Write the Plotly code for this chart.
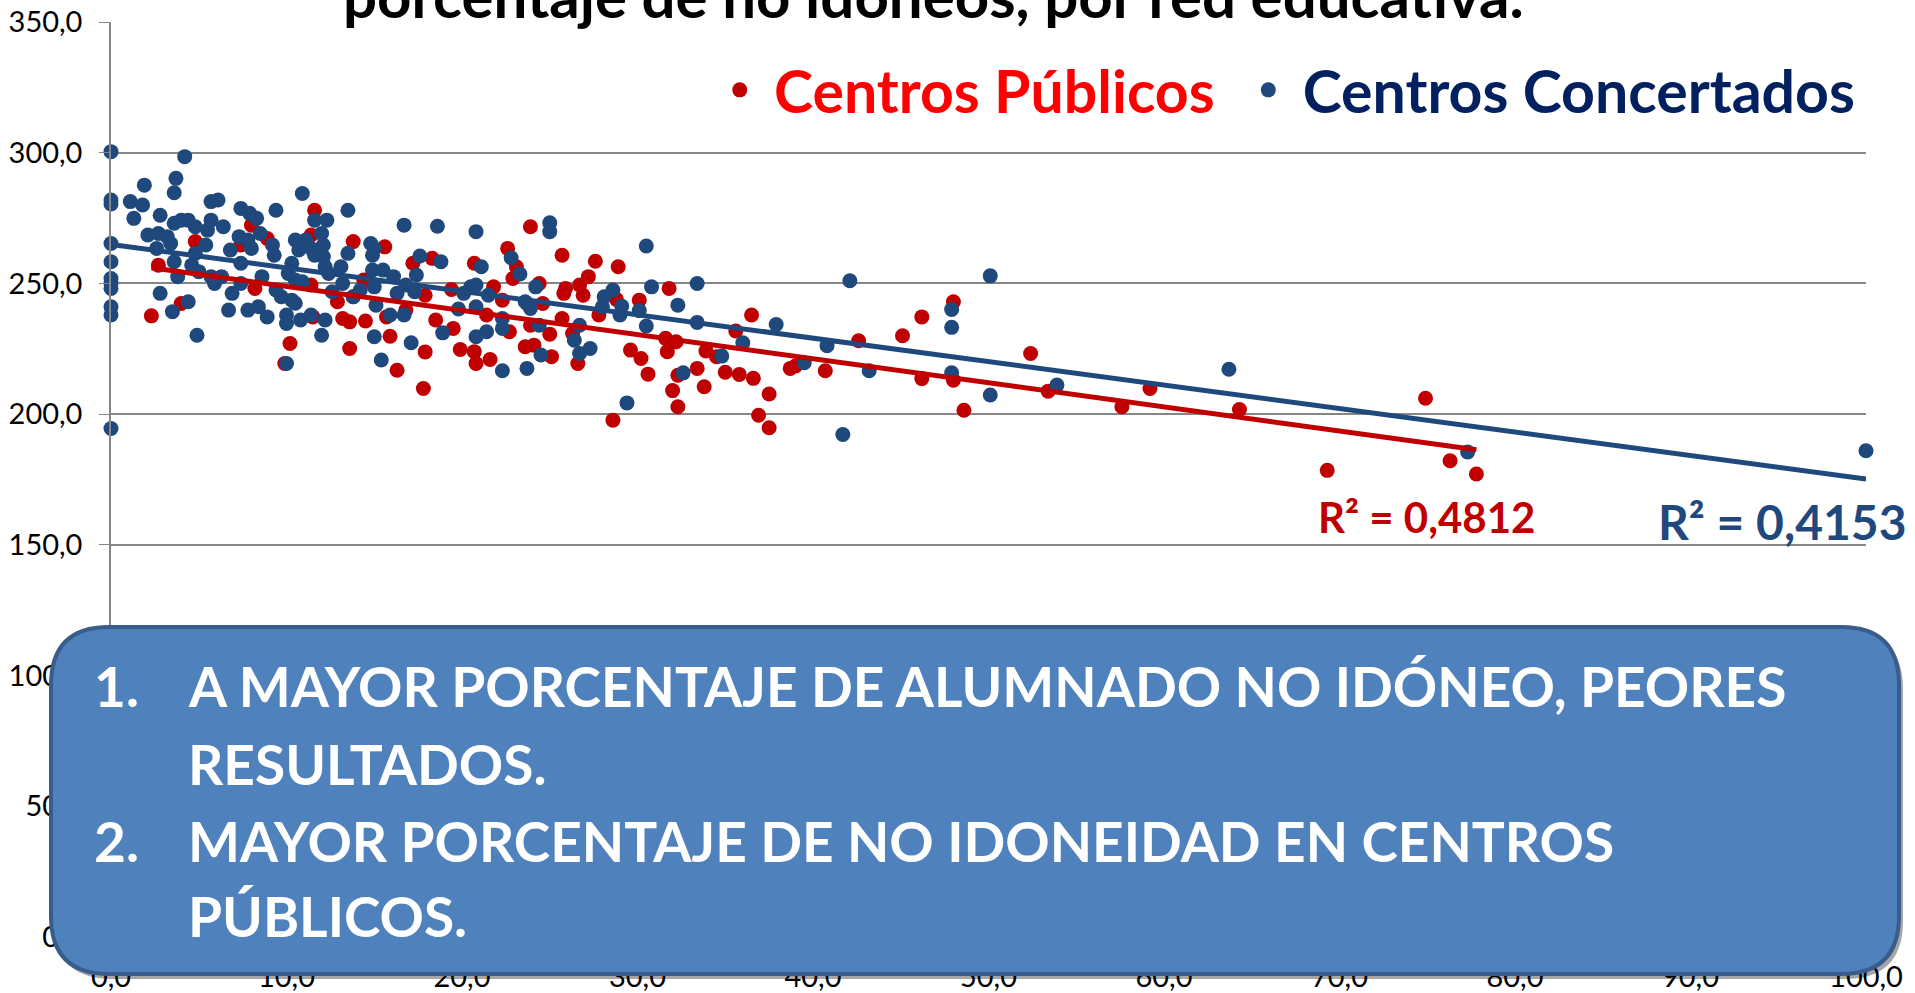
import numpy as np
import plotly.graph_objects as go

# ---- data ----
pub_x = [11.6, 8.0, 4.8, 2.7, 2.3, 4.0, 7.4, 8.9, 11.4, 8.2, 11.4, 12.9, 11.5, 13.2, 13.6, 10.2, 9.9, 13.6, 13.8,
         15.6, 14.4, 13.8, 14.5, 15.7, 16.8, 15.9, 16.3, 17.8, 17.9, 17.2, 18.3, 17.9, 18.5, 19.4, 19.5, 19.9, 20.7,
         20.8, 21.6, 20.7, 21.8, 22.3, 21.4, 22.7, 22.6, 23.1, 22.9, 23.9, 24.4, 23.7, 24.6, 23.9, 23.6, 24.1, 25.0,
         25.1, 25.7, 25.8, 25.9, 26.7, 27.2, 26.9, 27.6, 25.7, 26.3, 26.6, 27.8, 28.6,
         28.9, 31.8, 30.1, 28.8, 31.6, 32.2, 31.7, 29.6, 30.2, 30.6, 32.3, 33.4, 33.8, 32.0, 32.3, 33.9, 34.5, 35.6,
         36.5, 35.0, 35.8, 36.6, 37.5, 36.9, 37.5, 38.7, 39.0, 40.7,
         42.6, 45.1, 46.2, 48.0, 46.2, 48.0, 48.6, 52.4, 53.4, 57.6, 59.2, 64.3, 74.9, 69.3, 76.3, 77.8]
pub_y = [278.0, 272.3, 266.0, 257.0, 237.6, 242.3, 264.7, 267.2, 268.5, 248.1, 249.4, 243.0, 237.2, 236.6, 235.3,
         227.0, 219.4, 225.1, 266.0,
         264.0, 251.3, 244.9, 235.6, 237.2, 239.8, 229.8, 216.8, 209.8, 223.8, 257.7, 259.6, 245.5, 236.0, 247.7,
         232.8, 224.7, 223.9, 219.4, 220.9, 257.7, 248.7, 243.6, 237.9, 231.5, 263.4, 256.4, 251.9, 271.7, 250.0,
         242.3, 242.3, 234.0, 225.8, 226.4, 230.6, 222.0, 260.8, 246.2, 248.1, 249.4, 252.6, 245.5, 258.5, 236.6,
         230.8, 219.4, 237.9, 197.7,
         256.4, 248.1, 243.6, 243.9, 229.0, 227.7, 223.9, 224.5, 221.3, 215.3, 214.9, 217.5, 210.5, 209.0, 202.8,
         224.2, 222.0, 231.8, 237.9, 216.0, 215.2, 213.7, 207.7, 199.6, 194.8, 217.5, 218.4, 216.6,
         228.1, 230.0, 237.2, 243.0, 213.6, 213.0, 201.5, 223.2, 208.8, 202.8, 209.8, 201.8, 206.1, 178.5, 182.2, 177.1]

conc_x = [0, 4.2, 3.7, 1.9, 3.6, 0, 0, 1.1, 1.8, 1.3, 2.8, 5.7, 6.1, 7.4, 7.9, 8.3, 9.4, 10.9, 13.5, 3.6, 4.0, 4.4,
          4.8, 5.7, 5.5, 6.4, 2.1, 2.7, 3.2, 3.4, 2.6, 0, 0, 0, 0, 0, 0, 0, 0, 5.4, 4.8, 3.6, 3.8, 4.6, 5.0, 6.8,
          7.3, 7.8, 8.5, 7.4, 8.0, 9.2, 9.3, 5.7, 5.9, 6.3, 6.9, 7.4, 8.6, 2.8, 4.4, 3.5, 4.9, 6.7, 7.8, 8.4, 8.9,
          10.5, 11.1, 10.7, 11.6, 12.3, 12.0, 12.1, 12.1, 11.6, 11.4, 10.3, 10.1, 10.5, 10.9, 9.4, 9.7, 10.3, 10.5,
          10.0, 10.0, 10.8, 11.4, 12.2, 12.0, 10.0, 12.2, 13.1, 12.4, 13.2, 12.6, 13.8, 13.5,
          16.7, 18.6, 20.8, 25.0, 25.0, 14.8, 15.0, 14.9, 17.6, 18.8, 21.1, 22.8, 23.3, 24.2, 14.9, 15.5, 16.1,
          17.4, 15.0, 14.2, 15.1, 16.3, 16.8, 17.3, 20.1, 20.5, 20.8, 21.5, 19.8, 20.8, 23.9, 23.6, 15.9, 16.7,
          22.3, 24.4, 26.7, 28.1, 15.0, 17.1, 18.9, 20.8, 21.4, 22.3, 15.4, 22.3, 23.7, 24.5, 26.4, 26.7, 27.3,
          30.5, 30.8, 33.4, 28.6, 28.0, 29.1, 29.0, 30.1, 30.5, 32.3, 33.4, 36.0, 34.8, 37.9, 39.5, 40.8, 42.1,
          32.6, 29.4, 41.7,
          50.1, 47.9, 47.9, 43.2, 47.9, 50.1, 53.9, 63.7, 77.3, 100.0]
conc_y = [300.4, 298.5, 290.2, 287.6, 284.7, 281.9, 280.4, 281.3, 280.0, 274.9, 276.1, 281.3, 281.9, 278.7, 276.8,
          274.9, 278.0, 284.4, 278.0, 273.0, 274.2, 274.2, 271.7, 274.2, 270.4, 271.7, 268.5, 269.1, 267.9, 265.3,
          263.4, 265.3, 258.3, 251.9, 250.0, 248.1, 241.1, 237.9, 194.5, 264.7, 261.5, 258.3, 252.6, 257.0, 254.5,
          262.8, 267.9, 266.6, 269.1, 257.7, 263.4, 264.7, 260.8, 252.6, 250.0, 252.6, 246.2, 250.0, 252.6, 246.2,
          243.0, 239.2, 230.2, 239.8, 239.8, 241.1, 237.2, 266.6, 266.6, 262.8, 274.2, 274.2, 269.1, 264.7, 260.2,
          260.8, 263.4, 257.7, 253.8, 251.3, 250.6, 247.5, 244.9, 243.6, 242.4, 237.9, 234.7, 236.0, 237.9, 236.0,
          230.2, 219.4, 256.4, 256.4, 253.8, 250.0, 246.8, 244.9, 261.5,
          272.3, 271.9, 269.8, 273.2, 269.8, 265.3, 263.4, 260.8, 260.5, 258.3, 256.4, 259.8, 253.6, 248.7, 255.1,
          255.1, 252.6, 253.2, 248.7, 247.5, 241.7, 246.2, 249.4, 246.8, 246.2, 248.7, 249.4, 245.5, 240.2, 241.1,
          240.4, 243.0, 237.9, 237.9, 236.6, 234.0, 234.0, 244.9, 229.6, 227.3, 231.1, 229.6, 231.5, 232.8, 220.7,
          216.6, 217.5, 222.6, 228.3, 223.2, 225.1,
          264.3, 248.7, 250.0, 247.5, 241.1, 241.3, 237.9, 239.6, 233.7, 241.7, 235.1, 227.3, 222.2, 234.3, 219.7,
          226.2, 251.0, 215.8, 204.3, 192.2,
          252.9, 240.0, 233.2, 216.6, 215.8, 207.3, 211.1, 217.2, 185.5, 186.0]

x_ticks = [0, 10, 20, 30, 40, 50, 60, 70, 80, 90, 100]
y_ticks = [0, 50, 100, 150, 200, 250, 300, 350]

RED = "#C00000"
BLUE = "#1F497D"
FONT = "Lato"
NB = "\u00a0"

W, H = 1915, 993
L, R, T, B = 111, 49, 22, 56
PW, PH = W - L - R, H - T - B

def px(p): return (p - L) / PW
def py(p): return (H - B - p) / PH

def trend(xs, ys):
    a, b = np.polyfit(xs, ys, 1)
    xx = np.array([min(xs), max(xs)])
    return xx, a * xx + b

def rounded_box(x0, y0, x1, y1, r):
    pts = [
        f"M {px(x0 + r)},{py(y0)}", f"L {px(x1 - r)},{py(y0)}", f"Q {px(x1)},{py(y0)} {px(x1)},{py(y0 + r)}",
        f"L {px(x1)},{py(y1 - r)}", f"Q {px(x1)},{py(y1)} {px(x1 - r)},{py(y1)}",
        f"L {px(x0 + r)},{py(y1)}", f"Q {px(x0)},{py(y1)} {px(x0)},{py(y1 - r)}",
        f"L {px(x0)},{py(y0 + r)}", f"Q {px(x0)},{py(y0)} {px(x0 + r)},{py(y0)}", "Z"]
    return " ".join(pts)

fig = go.Figure()
fig.add_trace(go.Scatter(x=pub_x, y=pub_y, mode="markers",
                         name=f'<span style="color:#FF0000">{NB}Centros Públicos{NB}{NB}</span>',
                         marker=dict(color=RED, size=15), cliponaxis=False))
fig.add_trace(go.Scatter(x=conc_x, y=conc_y, mode="markers",
                         name=f'<span style="color:#002060">{NB}Centros Concertados</span>',
                         marker=dict(color=BLUE, size=15), cliponaxis=False))
tx, ty = trend(pub_x, pub_y)
fig.add_trace(go.Scatter(x=tx, y=ty, mode="lines", line=dict(color=RED, width=5), showlegend=False, hoverinfo="skip"))
tx, ty = trend(conc_x, conc_y)
fig.add_trace(go.Scatter(x=tx, y=ty, mode="lines", line=dict(color=BLUE, width=5), showlegend=False, hoverinfo="skip"))

shapes = [
    dict(type="path", xref="paper", yref="paper", path=rounded_box(54, 631, 1903, 979, 58),
         fillcolor="rgba(0,0,0,0.35)", line=dict(width=0), layer="above"),
    dict(type="path", xref="paper", yref="paper", path=rounded_box(51, 627, 1899, 974, 58),
         fillcolor="#4F81BD", line=dict(color="#385D8A", width=4), layer="above"),
]

box_font = dict(family=FONT, size=55, color="white", weight="bold")
ann = [
    dict(text="porcentaje de no idóneos, por red educativa.", x=px(933), y=py(33), xanchor="center", yanchor="bottom",
         font=dict(family=FONT, size=60, color="black", weight="bold")),
    dict(text="R² = 0,4812", x=px(1426), y=py(517), xanchor="center", yanchor="middle",
         font=dict(family=FONT, size=42, color=RED, weight="bold")),
    dict(text="R² = 0,4153", x=px(1782), y=py(521), xanchor="center", yanchor="middle",
         font=dict(family=FONT, size=48, color=BLUE, weight="bold")),
    dict(text="1.", x=px(92), y=py(686), xanchor="left", yanchor="middle", font=box_font),
    dict(text="A MAYOR PORCENTAJE DE ALUMNADO NO IDÓNEO, PEORES", x=px(186), y=py(686), xanchor="left", yanchor="middle", font=box_font),
    dict(text="RESULTADOS.", x=px(186), y=py(764), xanchor="left", yanchor="middle", font=box_font),
    dict(text="2.", x=px(92), y=py(841), xanchor="left", yanchor="middle", font=box_font),
    dict(text="MAYOR PORCENTAJE DE NO IDONEIDAD EN CENTROS", x=px(186), y=py(841), xanchor="left", yanchor="middle", font=box_font),
    dict(text="PÚBLICOS.", x=px(186), y=py(916), xanchor="left", yanchor="middle", font=box_font),
]
for a in ann:
    a.update(xref="paper", yref="paper", showarrow=False)

fig.update_layout(
    width=W, height=H, margin=dict(l=L, r=R, t=T, b=B, autoexpand=False),
    paper_bgcolor="white", plot_bgcolor="white", separators=",.",
    font=dict(family=FONT, color="black"),
    shapes=shapes, annotations=ann,
    legend=dict(orientation="h", x=0.997, xanchor="right", y=py(90), yanchor="middle",
                font=dict(family=FONT, size=59, weight="bold"), bgcolor="rgba(0,0,0,0)", itemsizing="trace"),
    xaxis=dict(range=[0, 100], tickvals=x_ticks, tickformat=".1f", showgrid=False, zeroline=False, automargin=False,
               showline=True, linecolor="#868686", linewidth=1.5, ticks="outside", ticklen=6, tickcolor="#868686",
               ticklabelstandoff=7, tickfont=dict(family=FONT, size=29, color="black")),
    yaxis=dict(range=[0, 350], tickvals=y_ticks, tickformat=".1f", showgrid=True, gridcolor="#868686", gridwidth=1.5,
               zeroline=False, showline=True, linecolor="#868686", linewidth=1.5, ticks="outside", ticklen=10,
               automargin=False, tickcolor="#868686", ticklabelstandoff=11,
               tickfont=dict(family=FONT, size=29, color="black")),
    hovermode="closest",
)

fig.write_html("out.html", config={"displayModeBar": False},
               post_script="document.body.style.margin='0';document.body.style.overflow='hidden';")
